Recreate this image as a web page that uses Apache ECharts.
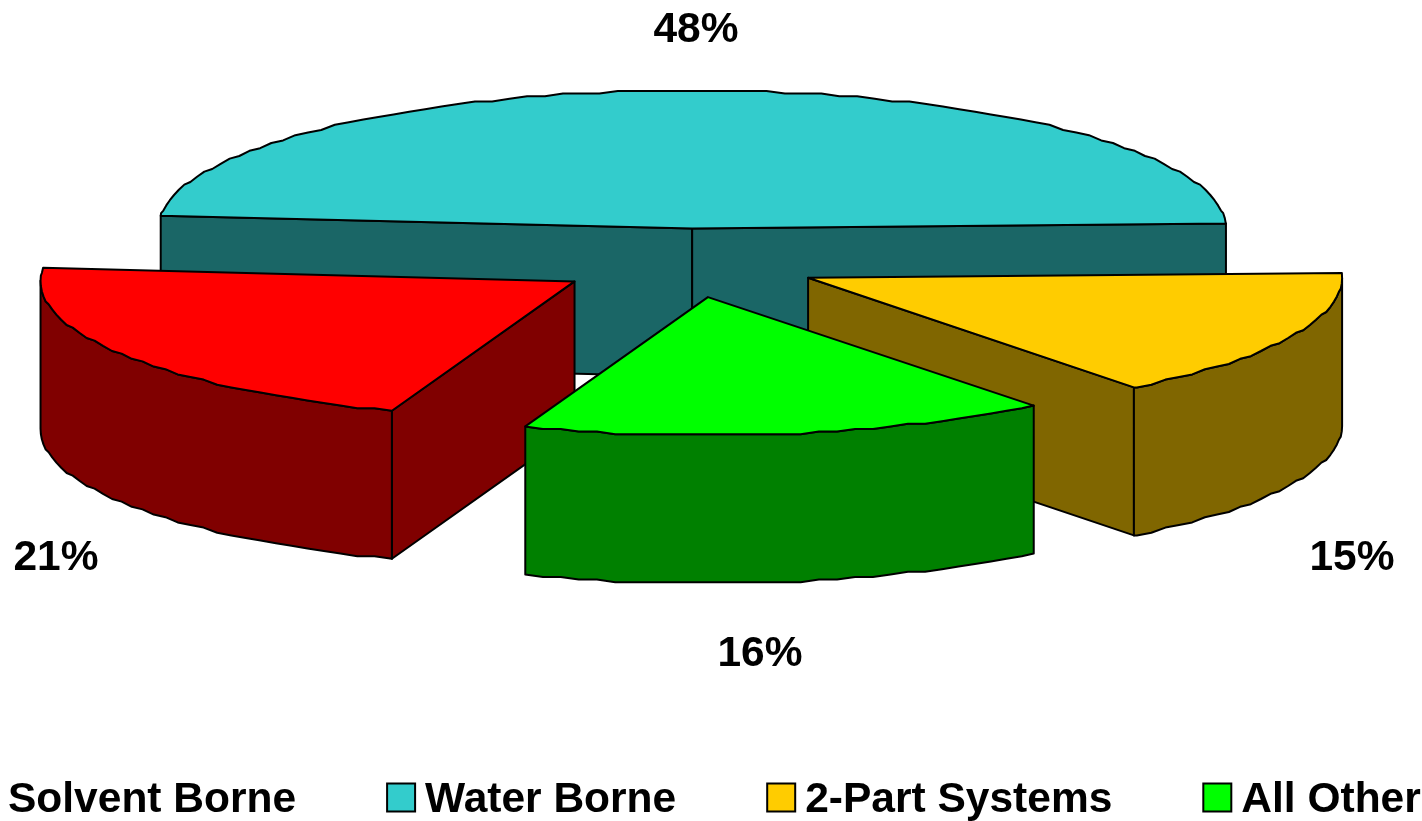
<!DOCTYPE html>
<html>
<head>
<meta charset="utf-8">
<title>Market share by coating technology</title>
<style>
  html, body { margin: 0; padding: 0; background: #fff; }
  #chart { width: 1422px; height: 821px; }
</style>
<script src="https://cdn.jsdelivr.net/npm/echarts@6/dist/echarts.min.js"></script>
</head>
<body>
<div id="chart"></div>
<script>
// Share of each coating technology, in percent
const categories = ['Solvent Borne', 'Water Borne', '2-Part Systems', 'All Other'];
const shares = [21, 48, 15, 16];

// Face and wall colours per slice
const topColors = ['#FF0000', '#33CCCC', '#FFCC00', '#00FF00'];
const wallColors = ['#800000', '#1A6666', '#806600', '#008000'];

// Painting order: slices further back first
const paintOrder = [3, 1, 2, 4];

// Projected pie geometry
const pie = { cx: 687.5, cy: 263, rx: 534, ry: 138, depth: 148, explode: 0.25, startDeg: 110 };
const edgeGrid = 2.6;
const edgeStepDeg = 2;

// Centres of the percentage labels
const labelCentres = [[56, 558], [696, 30], [1352, 558], [760, 654]];

const FONT = '"Liberation Sans", Arial, sans-serif';
const total = shares.reduce((a, b) => a + b, 0);

function sliceAngles(index) {
  let start = pie.startDeg;
  for (let i = 0; i < index; i++) start += shares[i] / total * 360;
  return [start, start + shares[index] / total * 360];
}

function unit(deg) {
  const r = deg * Math.PI / 180;
  return [Math.cos(r), Math.sin(r)];
}

// Rim points are snapped to a coarse grid, which gives the rim its stepped outline
function rimPoints(apex, from, to) {
  const ts = [from];
  for (let t = Math.ceil(from / edgeStepDeg) * edgeStepDeg; t < to; t += edgeStepDeg) {
    if (t > from) ts.push(t);
  }
  ts.push(to);
  return ts.map(t => {
    const u = unit(t);
    const y = apex[1] + pie.ry * u[1];
    return [apex[0] + pie.rx * u[0], Math.round(y / edgeGrid) * edgeGrid];
  });
}

function renderSlice(index) {
  return function (params, api) {
    const value = api.value(0);
    const [a, b] = sliceAngles(index);
    const mid = unit((a + b) / 2);
    const apex = [
      pie.cx + pie.explode * pie.rx * mid[0],
      pie.cy + pie.explode * pie.ry * mid[1]
    ];
    const down = p => [p[0], p[1] + pie.depth];
    const wallStyle = { fill: wallColors[index], stroke: '#000', lineWidth: 2, lineJoin: 'round' };
    const children = [];
    const rim = rimPoints(apex, a, b);

    // Radial walls that face the viewer
    if (Math.cos(a * Math.PI / 180) < 0) {
      const p = rim[0];
      children.push({ type: 'polygon', shape: { points: [apex, p, down(p), down(apex)] }, style: wallStyle });
    }
    if (Math.cos(b * Math.PI / 180) > 0) {
      const p = rim[rim.length - 1];
      children.push({ type: 'polygon', shape: { points: [apex, p, down(p), down(apex)] }, style: wallStyle });
    }

    // Curved wall along the front half of the rim
    for (let k = 0; k < 2; k++) {
      const from = Math.max(a, k * 360);
      const to = Math.min(b, k * 360 + 180);
      if (to > from) {
        const front = rimPoints(apex, from, to);
        const pts = front.concat(front.slice().reverse().map(down));
        children.push({ type: 'polygon', shape: { points: pts }, style: wallStyle });
      }
    }

    // Top face
    children.push({
      type: 'polygon',
      shape: { points: [apex].concat(rim) },
      style: { fill: topColors[index], stroke: '#000', lineWidth: 2, lineJoin: 'round' }
    });

    // Percentage label
    children.push({
      type: 'text',
      style: {
        x: labelCentres[index][0],
        y: labelCentres[index][1],
        text: value + '%',
        fill: '#000',
        font: 'bold 42.5px ' + FONT,
        align: 'center',
        verticalAlign: 'middle'
      }
    });
    return { type: 'group', children };
  };
}

const legendTextStyle = { color: '#000', fontFamily: FONT, fontWeight: 'bold', fontSize: 42.5 };

const chart = echarts.init(document.getElementById('chart'), null, { renderer: 'canvas' });
chart.setOption({
  animation: false,
  backgroundColor: '#fff',
  color: topColors,
  legend: {
    data: categories,
    left: -31,
    top: 779,
    width: 1520,
    padding: 0,
    itemGap: 90,
    itemWidth: 28,
    itemHeight: 28,
    icon: 'rect',
    itemStyle: { borderColor: '#000', borderWidth: 2 },
    selectedMode: false,
    formatter: name => '{t|' + name + '}',
    textStyle: Object.assign({}, legendTextStyle, {
      rich: { t: Object.assign({}, legendTextStyle, { padding: [6, 0, 0, 5] }) }
    })
  },
  series: categories.map((name, i) => ({
    type: 'custom',
    name: name,
    coordinateSystem: 'none',
    silent: true,
    z: paintOrder[i],
    itemStyle: { color: topColors[i] },
    data: [[shares[i]]],
    renderItem: renderSlice(i)
  }))
});
</script>
</body>
</html>
